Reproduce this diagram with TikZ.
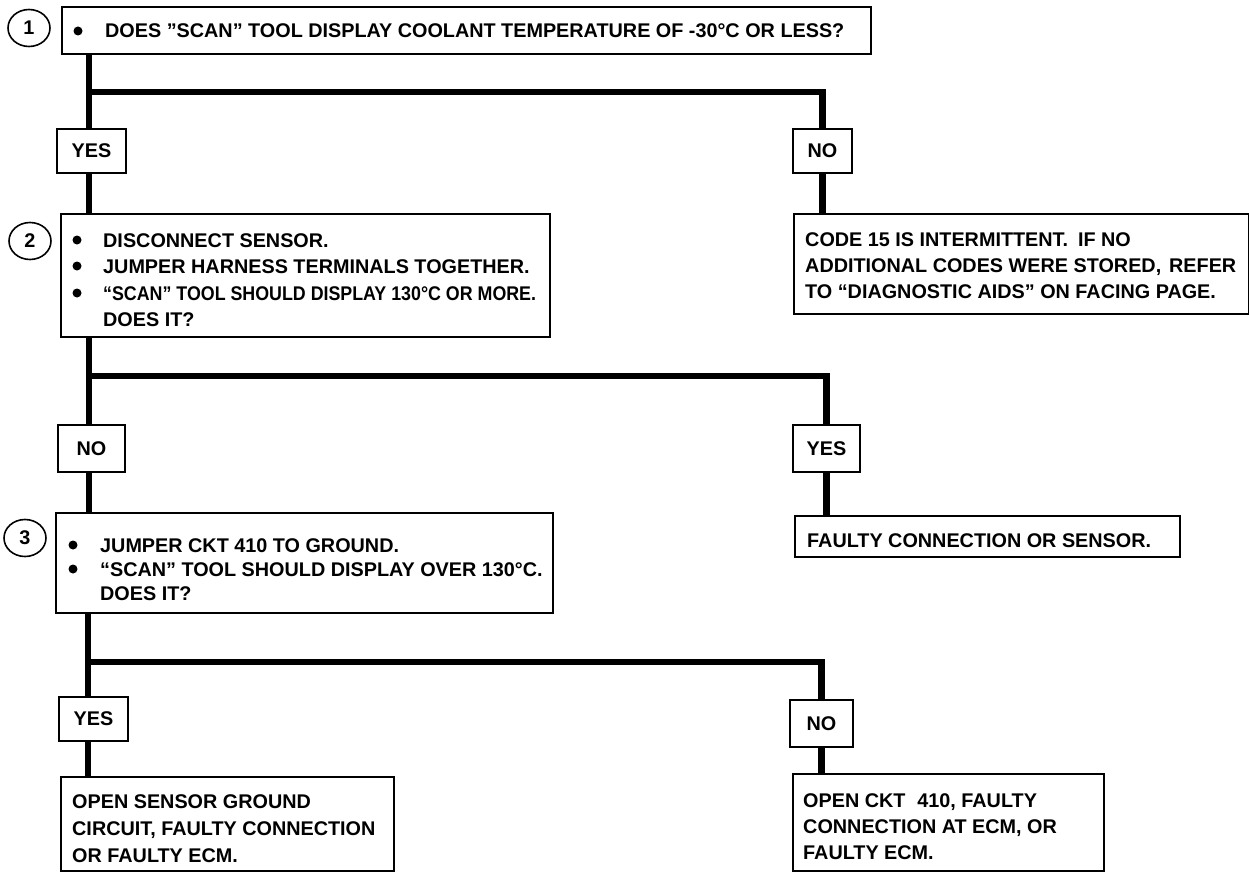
\documentclass[tikz,border=0pt]{standalone}
\usepackage{fontspec}
\usepackage{graphicx}
\setmainfont{Liberation Sans}
\usetikzlibrary{shapes.geometric}
\begin{document}
\begin{tikzpicture}[x=1pt,y=-1pt,
  lbl/.style={font=\fontsize{19.8}{22}\selectfont\bfseries},
  box/.style={draw, line width=1.6pt, rectangle, inner sep=0pt, anchor=north west},
  tag/.style={draw, line width=1.6pt, rectangle, inner sep=0pt, lbl},
  txt/.style={anchor=base west, inner sep=0pt, lbl},
  dot/.style={circle, fill, inner sep=0pt, minimum size=9pt},
  num/.style={ellipse, draw, line width=1.6pt, inner sep=0pt,
              minimum width=42pt, minimum height=37pt, lbl},
  wire/.style={line width=6.5pt, line join=miter}
]
\useasboundingbox (0,0) rectangle (1249,872);

% step numbers
\node[num] (n1) at (29,28) {1};
\node[num] (n2) at (30,241) {2};
\node[num] (n3) at (25,538) {3};

% question and result boxes
\node[box, minimum width=809pt, minimum height=47pt]  (b1) at (61,6) {};
\node[box, minimum width=489pt, minimum height=123pt] (b2) at (60,213) {};
\node[box, minimum width=497pt, minimum height=100pt] (b3) at (55,512) {};
\node[box, minimum width=455pt, minimum height=100pt] (r1) at (793,213) {};
\node[box, minimum width=385pt, minimum height=41pt]  (r2) at (794,515) {};
\node[box, minimum width=333pt, minimum height=94pt]  (r3) at (60,776) {};
\node[box, minimum width=311pt, minimum height=97pt]  (r4) at (792,773) {};

% YES / NO tags
\node[tag, minimum width=69pt, minimum height=44pt] (yes1) at (91.5,151) {YES};
\node[tag, minimum width=59pt, minimum height=44pt] (no1)  at (822.5,151) {NO};
\node[tag, minimum width=67pt, minimum height=47pt] (no2)  at (91.5,448.5) {NO};
\node[tag, minimum width=67pt, minimum height=47pt] (yes2) at (826.5,448.5) {YES};
\node[tag, minimum width=69pt, minimum height=44pt] (yes3) at (93.5,719) {YES};
\node[tag, minimum width=63pt, minimum height=47pt] (no3)  at (821.5,723.5) {NO};

% junctions on the main trunk
\coordinate (j1) at (89,92);
\coordinate (j2) at (89,376);
\coordinate (j3) at (88,662);

% main trunk
\draw[wire] (b1.south -| j1) -- (yes1.north -| j1);
\draw[wire] (yes1.south -| j1) -- (b2.north -| j1);
\draw[wire] (b2.south -| j2) -- (no2.north -| j2);
\draw[wire] (no2.south -| j2) -- (b3.north -| j2);
\draw[wire] (b3.south -| j3) -- (yes3.north -| j3);
\draw[wire] (yes3.south -| j3) -- (r3.north -| j3);

% right-hand branches
\draw[wire] (j1) -| (no1.north);
\draw[wire] (no1.south) -- (no1.south |- r1.north);
\draw[wire] (j2) -| (yes2.north);
\draw[wire] (yes2.south) -- (yes2.south |- r2.north);
\draw[wire] (j3) -| (no3.north);
\draw[wire] (no3.south) -- (no3.south |- r4.north);

% step 1
\node[dot] (d11) at (78,31) {};
\node[txt] (t11) at (105,38) {DOES ”SCAN” TOOL DISPLAY COOLANT TEMPERATURE OF -30°C OR LESS?};

% step 2
\node[dot] (d21) at (77,240) {};
\node[dot] (d22) at (77,266) {};
\node[dot] (d23) at (77,293) {};
\node[txt] (t21) at (103,247) {DISCONNECT SENSOR.};
\node[txt] (t22) at (103,273) {JUMPER HARNESS TERMINALS TOGETHER.};
\node[txt] (t23) at (103,300) {\scalebox{0.9}[1]{“SCAN” TOOL SHOULD DISPLAY 130°C OR MORE.}};
\node[txt] (t24) at (103,326) {DOES IT?};

% step 3
\node[dot] (d31) at (73,545) {};
\node[dot] (d32) at (73,569) {};
\node[txt] (t31) at (100,552) {JUMPER CKT 410 TO GROUND.};
\node[txt] (t32) at (100,576) {“SCAN” TOOL SHOULD DISPLAY OVER 130°C.};
\node[txt] (t33) at (100,600) {DOES IT?};

% results
\node[txt] (s11) at (805,246) {CODE 15 IS INTERMITTENT.\hspace{0.5em}IF NO};
\node[txt] (s12) at (805,272) {ADDITIONAL CODES WERE STORED,\hspace{0.4em}REFER};
\node[txt] (s13) at (805,298) {TO “DIAGNOSTIC AIDS” ON FACING PAGE.};
\node[txt] (s21) at (807,547) {FAULTY CONNECTION OR SENSOR.};
\node[txt] (s31) at (72,808) {OPEN SENSOR GROUND};
\node[txt] (s32) at (72,835) {CIRCUIT, FAULTY CONNECTION};
\node[txt] (s33) at (72,862) {OR FAULTY ECM.};
\node[txt] (s41) at (803,807) {OPEN CKT\hspace{0.6em}410, FAULTY};
\node[txt] (s42) at (803,833) {CONNECTION AT ECM, OR};
\node[txt] (s43) at (803,859) {FAULTY ECM.};
\end{tikzpicture}
\end{document}
